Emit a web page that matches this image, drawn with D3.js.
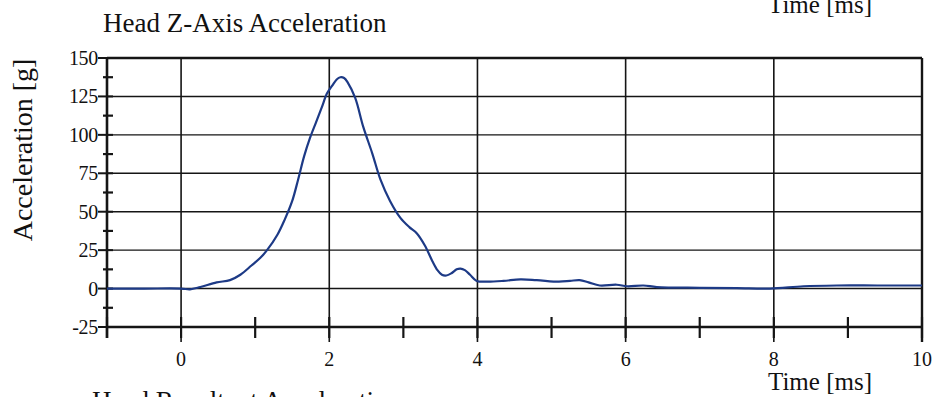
<!DOCTYPE html>
<html>
<head>
<meta charset="utf-8">
<script src="https://cdn.jsdelivr.net/npm/d3@7"></script>
<style>
html,body{margin:0;padding:0;background:#fff;}
svg{display:block;}
text{font-family:"Liberation Serif","Times New Roman",serif;fill:#111;}
</style>
</head>
<body>
<svg id="chart" width="941" height="397"></svg>
<script>
// Data
const timeMs = [-1, -0.5, 0, 0.12, 0.26, 0.48, 0.66, 0.8, 0.95, 1.07, 1.16, 1.3, 1.4, 1.5, 1.58, 1.66, 1.74, 1.82, 1.9, 1.97, 2.04, 2.1, 2.15, 2.2, 2.25, 2.35, 2.46, 2.58, 2.69, 2.82, 2.96, 3.08, 3.18, 3.29, 3.39, 3.46, 3.52, 3.58, 3.65, 3.72, 3.77, 3.83, 3.9, 3.99, 4.13, 4.35, 4.58, 4.8, 5.1, 5.25, 5.38, 5.5, 5.65, 5.88, 6.02, 6.24, 6.42, 7.0, 7.5, 7.95, 8.4, 8.85, 9.4, 10];
const accelG = [0, 0, 0, -0.5, 1, 4, 5.5, 9, 15, 20, 25, 35, 45, 57, 71, 86, 98, 108, 118, 127, 132, 136, 137.5, 137, 134, 124, 105, 88, 71, 57, 46, 40, 36, 28, 18, 12, 9, 8.5, 10, 12.5, 13, 12, 9, 5, 4.5, 5, 6, 5.5, 4.5, 5, 5.5, 4, 2, 2.5, 1.5, 2, 1, 0.5, 0.3, 0, 1.5, 2, 2, 2];
const xTickValues = [0, 2, 4, 6, 8, 10];
const xMinorTicks = [-1, 0, 1, 2, 3, 4, 5, 6, 7, 8, 9, 10];
const yTickValues = [-25, 0, 25, 50, 75, 100, 125, 150];
const yMinorTicks = [-12.5, 12.5, 37.5, 62.5, 87.5, 112.5, 137.5];
const titleText = "Head Z-Axis Acceleration";
const nextTitleText = "Head Resultant Acceleration";
const xLabelText = "Time [ms]";
const yLabelText = "Acceleration [g]";

const svg = d3.select("#chart");
const x = d3.scaleLinear().domain([-1, 10]).range([107, 922]);
const y = d3.scaleLinear().domain([-25, 150]).range([327, 58]);
const ink = "#151515";

// horizontal gridlines
svg.append("g").selectAll("line").data(yTickValues.filter(v => v > -25 && v < 150)).join("line")
  .attr("x1", x(-1)).attr("x2", x(10))
  .attr("y1", d => y(d)).attr("y2", d => y(d))
  .attr("stroke", ink).attr("stroke-width", 1.4);

// vertical gridlines (extend below the axis)
svg.append("g").selectAll("line").data(xTickValues.filter(v => v < 10)).join("line")
  .attr("x1", d => x(d)).attr("x2", d => x(d))
  .attr("y1", y(150)).attr("y2", y(-25) + 15)
  .attr("stroke", ink).attr("stroke-width", 1.6);

// x axis minor ticks (crossing)
svg.append("g").selectAll("line").data(xMinorTicks).join("line")
  .attr("x1", d => x(d)).attr("x2", d => x(d))
  .attr("y1", y(-25) - 10).attr("y2", y(-25) + 11)
  .attr("stroke", ink).attr("stroke-width", 2.2);

// right border extends below
svg.append("line").attr("x1", x(10)).attr("x2", x(10))
  .attr("y1", y(150)).attr("y2", y(-25) + 15)
  .attr("stroke", ink).attr("stroke-width", 2.4);
// left axis
svg.append("line").attr("x1", x(-1)).attr("x2", x(-1))
  .attr("y1", y(150)).attr("y2", y(-25) + 11)
  .attr("stroke", ink).attr("stroke-width", 2.6);
// top border
svg.append("line").attr("x1", x(-1)).attr("x2", x(10))
  .attr("y1", y(150)).attr("y2", y(150))
  .attr("stroke", ink).attr("stroke-width", 2.4);
// bottom axis
svg.append("line").attr("x1", x(-1)).attr("x2", x(10))
  .attr("y1", y(-25)).attr("y2", y(-25))
  .attr("stroke", ink).attr("stroke-width", 2.4);

// y major ticks
svg.append("g").selectAll("line").data(yTickValues).join("line")
  .attr("x1", x(-1) - 9).attr("x2", x(-1) + 6)
  .attr("y1", d => y(d)).attr("y2", d => y(d))
  .attr("stroke", ink).attr("stroke-width", 2);
// y minor ticks
svg.append("g").selectAll("line").data(yMinorTicks).join("line")
  .attr("x1", x(-1) - 4).attr("x2", x(-1) + 6)
  .attr("y1", d => y(d)).attr("y2", d => y(d))
  .attr("stroke", ink).attr("stroke-width", 2.2);

// y tick labels
svg.append("g").selectAll("text").data(yTickValues).join("text")
  .attr("x", x(-1) - 9).attr("y", d => y(d) + 7)
  .attr("text-anchor", "end").attr("font-size", 20).attr("letter-spacing", -0.3)
  .text(d => d);

// x tick labels
svg.append("g").selectAll("text").data(xTickValues).join("text")
  .attr("x", d => x(d)).attr("y", 366)
  .attr("text-anchor", "middle").attr("font-size", 20)
  .text(d => d);

// curve
const line = d3.line().x((d, i) => x(timeMs[i])).y(d => y(d)).curve(d3.curveCatmullRom.alpha(0.5));
svg.append("path").datum(accelG).attr("d", line)
  .attr("fill", "none").attr("stroke", "#1d3a86").attr("stroke-width", 2.2)
  .attr("stroke-linejoin", "round");

// titles and labels
svg.append("text").attr("x", 103).attr("y", 32).attr("font-size", 27).text(titleText);
svg.append("text").attr("x", 768).attr("y", 390).attr("font-size", 25).text(xLabelText);
svg.append("text").attr("x", 768).attr("y", 13).attr("font-size", 25).text(xLabelText);
svg.append("text").attr("x", 92).attr("y", 410).attr("font-size", 27).text(nextTitleText);
svg.append("text").attr("transform", "translate(32,150) rotate(-90)")
  .attr("text-anchor", "middle").attr("font-size", 28).text(yLabelText);
</script>
</body>
</html>
